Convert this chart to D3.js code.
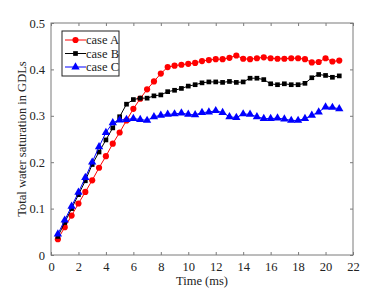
<!DOCTYPE html>
<html><head><meta charset="utf-8">
<script src="https://cdn.jsdelivr.net/npm/d3@7"></script>
<style>html,body{margin:0;padding:0;background:#fff;}svg{display:block;}
svg text{font-family:"Liberation Serif","Tinos","Times New Roman",Times,serif !important;}</style>
</head><body>
<script>
const times = d3.range(0.5, 21.01, 0.5);
const caseA = [0.034,0.060,0.085,0.111,0.136,0.161,0.188,0.213,0.240,0.264,0.290,0.315,0.337,0.357,0.374,0.391,0.405,0.408,0.410,0.412,0.414,0.418,0.420,0.422,0.422,0.425,0.430,0.423,0.422,0.424,0.426,0.424,0.423,0.423,0.424,0.424,0.422,0.415,0.416,0.424,0.417,0.419];
const caseB = [0.040,0.070,0.100,0.130,0.160,0.195,0.222,0.248,0.274,0.298,0.325,0.335,0.338,0.338,0.343,0.345,0.352,0.355,0.359,0.364,0.367,0.371,0.373,0.373,0.372,0.374,0.372,0.373,0.381,0.381,0.378,0.369,0.367,0.369,0.367,0.367,0.370,0.382,0.389,0.387,0.383,0.386];
const caseC = [0.045,0.075,0.105,0.135,0.167,0.200,0.233,0.264,0.285,0.291,0.292,0.294,0.292,0.290,0.298,0.301,0.303,0.304,0.306,0.303,0.302,0.307,0.308,0.311,0.307,0.298,0.296,0.304,0.303,0.298,0.294,0.294,0.295,0.293,0.290,0.290,0.294,0.301,0.308,0.319,0.318,0.315];
const seriesNames = ["case A","case B","case C"];
const xTicks = d3.range(0, 22.01, 2);
const yTicks = [0, 0.1, 0.2, 0.3, 0.4, 0.5];

const W = 390, H = 291;
const m = {l:51, r:37, t:23, b:36};
const svg = d3.select("body").append("svg").attr("width", W).attr("height", H);
const x = d3.scaleLinear().domain([0,22]).range([m.l, W-m.r]);
const y = d3.scaleLinear().domain([0,0.5]).range([H-m.b, m.t]);
const axisCol = "#7a7a7a";

function styleAxis(g){
  g.attr("font-family", null);
  g.selectAll(".domain").remove();
  g.selectAll("line").attr("stroke", axisCol);
  g.selectAll("text").attr("font-size", 12.5).attr("fill", "#222");
}
svg.append("g").attr("transform", `translate(0,${H-m.b})`)
  .call(d3.axisBottom(x).tickValues(xTicks).tickFormat(d3.format("d")).tickSizeInner(-3).tickSizeOuter(0).tickPadding(7))
  .call(styleAxis);
svg.append("g").attr("transform", `translate(0,${m.t})`)
  .call(d3.axisTop(x).tickValues(xTicks).tickFormat("").tickSizeInner(-3).tickSizeOuter(0))
  .call(styleAxis);
svg.append("g").attr("transform", `translate(${m.l},0)`)
  .call(d3.axisLeft(y).tickValues(yTicks).tickFormat(d => d===0 ? "0" : d3.format(".1f")(d)).tickSizeInner(-3).tickSizeOuter(0).tickPadding(6))
  .call(styleAxis);
svg.append("g").attr("transform", `translate(${W-m.r},0)`)
  .call(d3.axisRight(y).tickValues(yTicks).tickFormat("").tickSizeInner(-3).tickSizeOuter(0))
  .call(styleAxis);
svg.append("rect").attr("x", m.l).attr("y", m.t).attr("width", W-m.r-m.l).attr("height", H-m.b-m.t)
  .attr("fill","none").attr("stroke", axisCol).attr("stroke-width", 1);

svg.append("text").attr("x", x(11)).attr("y", 285).attr("text-anchor","middle")
  .attr("font-size", 12.5).attr("fill","#222").text("Time (ms)");
svg.append("text").attr("transform", `translate(26,${(m.t + H-m.b)/2}) rotate(-90)`).attr("text-anchor","middle")
  .attr("font-size", 12.5).attr("fill","#222").text("Total water saturation in GDLs");

const cfg = [
  {data: caseA, color: "#ff0000", sym: d3.symbolCircle, size: 30},
  {data: caseB, color: "#000000", sym: d3.symbolSquare, size: 22},
  {data: caseC, color: "#0000ff", sym: d3.symbolTriangle, size: 30}
];
const line = d3.line().x((d,i)=>x(times[i])).y(d=>y(d));
cfg.forEach(c => {
  svg.append("path").attr("d", line(c.data)).attr("fill","none").attr("stroke", c.color).attr("stroke-width", 1);
  svg.append("g").selectAll("path").data(c.data).join("path")
    .attr("transform", (d,i)=>`translate(${x(times[i])},${y(d)})`)
    .attr("d", d3.symbol().type(c.sym).size(c.size)).attr("fill", c.color);
});

const lg = svg.append("g");
lg.append("rect").attr("x", 62).attr("y", 31).attr("width", 57).attr("height", 45)
  .attr("fill","#fff").attr("stroke","#222").attr("stroke-width",1);
cfg.forEach((c,i) => {
  const yy = 40 + i*13.5;
  lg.append("line").attr("x1",65).attr("x2",86).attr("y1",yy).attr("y2",yy).attr("stroke",c.color).attr("stroke-width",1);
  lg.append("path").attr("transform",`translate(75.5,${yy})`).attr("d", d3.symbol().type(c.sym).size(c.size)).attr("fill",c.color);
  lg.append("text").attr("x",86).attr("y",yy).attr("dy","0.35em").attr("font-size",12.5).attr("fill","#222").text(seriesNames[i]);
});
</script>
</body></html>
